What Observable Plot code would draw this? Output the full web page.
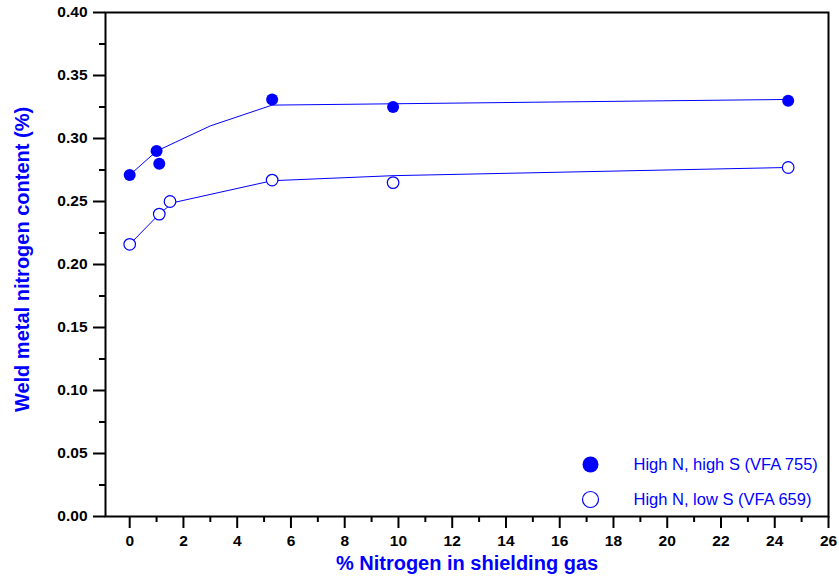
<!DOCTYPE html>
<html><head><meta charset="utf-8">
<script src="https://cdn.jsdelivr.net/npm/d3@7"></script>
<script src="https://cdn.jsdelivr.net/npm/@observablehq/plot@0.6"></script>
<style>body{margin:0;background:#fff;} svg{font-family:"Liberation Sans",Arial,sans-serif;}</style>
</head><body><div id="chart"></div>
<script>
const seriesNames = ["High N, high S (VFA 755)", "High N, low S (VFA 659)"];
const highS_x = [0, 1.0, 1.1, 5.3, 9.8, 24.5];
const highS_y = [0.271, 0.290, 0.280, 0.331, 0.325, 0.330];
const lowS_x = [0, 1.1, 1.5, 5.3, 9.8, 24.5];
const lowS_y = [0.216, 0.240, 0.250, 0.267, 0.265, 0.277];
const highFit_x = [0, 1, 3, 5.3, 24.5];
const highFit_y = [0.271, 0.290, 0.310, 0.3265, 0.331];
const lowFit_x = [0, 1.1, 1.6, 5.3, 9.8, 24.5];
const lowFit_y = [0.216, 0.240, 0.249, 0.2665, 0.2705, 0.277];
const xMajor = [0, 2, 4, 6, 8, 10, 12, 14, 16, 18, 20, 22, 24, 26];
const xMinor = [1, 3, 5, 7, 9, 11, 13, 15, 17, 19, 21, 23, 25];
const yMajor = [0, 0.05, 0.10, 0.15, 0.20, 0.25, 0.30, 0.35, 0.40];
const yMinor = [0.025, 0.075, 0.125, 0.175, 0.225, 0.275, 0.325, 0.375];
const xTitle = "% Nitrogen in shielding gas";
const yTitle = "Weld metal nitrogen content (%)";

const zip = (xs, ys) => xs.map((x, i) => ({x, y: ys[i]}));
const high = zip(highS_x, highS_y), low = zip(lowS_x, lowS_y);
const highFit = zip(highFit_x, highFit_y), lowFit = zip(lowFit_x, lowFit_y);
const BLUE = "#0000ff";
const yFmt = d3.format(".2f");

const chart = Plot.plot({
  width: 839, height: 578,
  marginLeft: 105, marginRight: 11, marginTop: 12, marginBottom: 62,
  x: {domain: [-0.9, 26]},
  y: {domain: [0, 0.40]},
  style: {fontFamily: "'Liberation Sans', Arial, sans-serif", background: "white"},
  marks: [
    Plot.axisX(xMajor, {anchor: "bottom", tickSize: 12, tickPadding: 6, strokeWidth: 2, fontSize: 15.5, fontWeight: "bold", fill: "black", tickFormat: d => String(d), label: null}),
    Plot.axisX(xMinor, {anchor: "bottom", tickSize: 6, strokeWidth: 2, tickFormat: () => "", label: null}),
    Plot.axisY(yMajor, {anchor: "left", tickSize: 12, tickPadding: 6, strokeWidth: 2, fontSize: 15.5, fontWeight: "bold", fill: "black", tickFormat: yFmt, label: null}),
    Plot.axisY(yMinor, {anchor: "left", tickSize: 6, strokeWidth: 2, tickFormat: () => "", label: null}),
    Plot.frame({stroke: "black", strokeWidth: 2}),
    Plot.line(highFit, {x: "x", y: "y", stroke: BLUE, strokeWidth: 1}),
    Plot.line(lowFit, {x: "x", y: "y", stroke: BLUE, strokeWidth: 1}),
    Plot.dot(high, {x: "x", y: "y", r: 6, fill: BLUE, stroke: "none"}),
    Plot.dot(low, {x: "x", y: "y", r: 5.8, fill: "white", stroke: BLUE, strokeWidth: 1.2}),
    Plot.text([yTitle], {frameAnchor: "left", dx: -83, dy: -5, rotate: -90, text: d => d, textAnchor: "middle", lineAnchor: "middle", fill: BLUE, fontSize: 20, fontWeight: "bold"}),
    Plot.text([xTitle], {frameAnchor: "bottom", dy: 47, text: d => d, textAnchor: "middle", lineAnchor: "middle", fill: BLUE, fontSize: 20, fontWeight: "bold"}),
    Plot.dot([seriesNames[0]], {frameAnchor: "bottom-right", dx: -238, dy: -52, r: 8, fill: BLUE}),
    Plot.dot([seriesNames[1]], {frameAnchor: "bottom-right", dx: -238, dy: -17, r: 8, fill: "white", stroke: BLUE, strokeWidth: 1.2}),
    Plot.text([seriesNames[0]], {frameAnchor: "bottom-right", dx: -195, dy: -52, text: d => d, textAnchor: "start", lineAnchor: "middle", fill: BLUE, fontSize: 16.5}),
    Plot.text([seriesNames[1]], {frameAnchor: "bottom-right", dx: -195, dy: -17, text: d => d, textAnchor: "start", lineAnchor: "middle", fill: BLUE, fontSize: 16.5})
  ]
});
const tickStrings = new Set([...xMajor.map(String), ...yMajor.map(yFmt)]);
d3.select(chart).selectAll("text").each(function() {
  if (tickStrings.has(this.textContent)) {
    d3.select(this).style("font-size", "15.5px").style("font-weight", "bold");
  }
});
document.getElementById("chart").appendChild(chart);
</script></body></html>
